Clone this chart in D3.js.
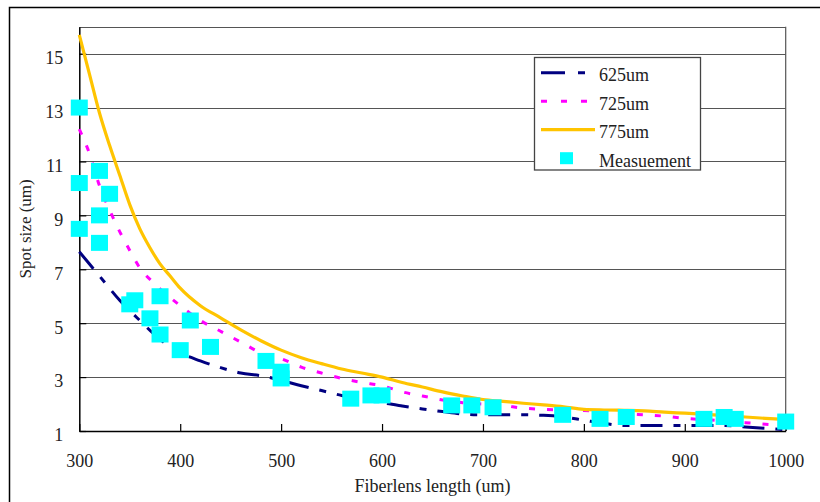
<!DOCTYPE html>
<html>
<head>
<meta charset="utf-8">
<script src="https://cdn.jsdelivr.net/npm/d3@7"></script>
<style>
  html, body { margin: 0; padding: 0; background: #fff; }
  svg { display: block; font-family: "Liberation Serif", "DejaVu Serif", serif; }
</style>
</head>
<body>
<div id="chart"></div>
<script>
// Spot size vs fiberlens length

const xTicks = [300, 400, 500, 600, 700, 800, 900, 1000];
const yTicks = [1, 3, 5, 7, 9, 11, 13, 15];

// simulated curves: [length, spot size]
const curve625 = [
    [300, 7.65], [320, 6.75], [340, 5.85], [360, 5.1], [380, 4.4], [400, 3.9],
    [420, 3.6], [440, 3.35], [460, 3.15], [480, 3.05], [500, 2.88], [520, 2.68],
    [540, 2.5], [560, 2.32], [580, 2.2], [600, 2.05], [620, 1.93], [640, 1.82],
    [660, 1.72], [680, 1.63], [700, 1.6], [720, 1.6], [740, 1.6], [760, 1.58],
    [780, 1.52], [800, 1.4], [820, 1.28], [840, 1.2], [860, 1.2], [880, 1.2],
    [900, 1.2], [920, 1.2], [940, 1.2], [960, 1.15], [980, 1.1], [1000, 1.05]
];
const curve725 = [
    [300, 12.2], [310, 11.3], [320, 10.1], [330, 9.2], [340, 8.4], [350, 7.7],
    [360, 7.05], [375, 6.45], [390, 5.95], [400, 5.65], [420, 5.1], [440, 4.7],
    [460, 4.3], [480, 3.9], [500, 3.68], [520, 3.37], [540, 3.15], [560, 2.95],
    [580, 2.8], [600, 2.68], [620, 2.45], [640, 2.3], [660, 2.15], [680, 2.05],
    [700, 2.0], [720, 1.94], [740, 1.85], [760, 1.8], [780, 1.78], [800, 1.76],
    [820, 1.71], [840, 1.65], [860, 1.6], [880, 1.55], [900, 1.47], [920, 1.42],
    [940, 1.37], [960, 1.31], [980, 1.25], [1000, 1.2]
];
const curve775 = [
    [300, 15.7], [310, 14.25], [320, 12.8], [330, 11.6], [340, 10.5], [350, 9.4],
    [360, 8.5], [370, 7.8], [380, 7.2], [390, 6.75], [400, 6.3], [420, 5.65],
    [440, 5.2], [460, 4.75], [480, 4.35], [500, 4.0], [520, 3.72], [540, 3.5],
    [560, 3.3], [580, 3.15], [600, 3.0], [620, 2.8], [640, 2.63], [660, 2.45],
    [680, 2.3], [700, 2.17], [720, 2.1], [740, 2.03], [760, 1.97], [780, 1.9],
    [800, 1.8], [820, 1.78], [840, 1.77], [860, 1.75], [880, 1.7], [900, 1.66],
    [920, 1.62], [940, 1.57], [960, 1.52], [980, 1.47], [1000, 1.42]
];
// measured points
const measured = [
    [300, 13.0], [300, 10.2], [300, 8.5], [320, 10.65], [320, 9.0], [320, 7.98],
    [330, 9.8], [350, 5.7], [355, 5.85], [370, 5.18], [380, 6.0], [380, 4.58],
    [400, 4.0], [410, 5.1], [430, 4.12], [485, 3.6], [500, 3.2], [500, 2.95],
    [569, 2.2], [589, 2.32], [600, 2.32], [669, 1.95], [689, 1.95], [710, 1.88],
    [779, 1.6], [816, 1.45], [842, 1.52], [919, 1.45], [939, 1.52], [950, 1.45],
    [1000, 1.35]
];

const width = 820, height = 502;
const plot = { left: 79.3, right: 785.7, top: 26.7, bottom: 431 };

const svg = d3.select('#chart').append('svg')
    .attr('width', width)
    .attr('height', height);

// outer chart frame (runs off the right/bottom edge)
svg.append('rect')
    .attr('x', 9.5).attr('y', 7.5)
    .attr('width', 840).attr('height', 520)
    .attr('fill', 'none')
    .attr('stroke', '#000')
    .attr('stroke-width', 1.5);

const x = d3.scaleLinear().domain([300, 1000]).range([plot.left, plot.right]);
const y = d3.scaleLinear().domain([1, 16]).range([plot.bottom, plot.top]);

// gridlines
svg.append('g')
    .selectAll('line')
    .data(yTicks.concat([16]))
    .enter().append('line')
    .attr('x1', plot.left).attr('x2', plot.right)
    .attr('y1', d => Math.round(y(d)) + 0.5)
    .attr('y2', d => Math.round(y(d)) + 0.5)
    .attr('stroke', '#555')
    .attr('stroke-width', 1.2);

// right border of plot area
svg.append('line')
    .attr('x1', plot.right).attr('x2', plot.right)
    .attr('y1', plot.top).attr('y2', plot.bottom)
    .attr('stroke', '#555')
    .attr('stroke-width', 1.2);

// axes
const xAxis = svg.append('g')
    .attr('transform', `translate(0,${plot.bottom})`)
    .call(d3.axisBottom(x).tickValues(xTicks).tickFormat(d3.format('d'))
        .tickSizeInner(-7).tickSizeOuter(0).tickPadding(23));
const yAxis = svg.append('g')
    .attr('transform', `translate(${plot.left},0)`)
    .call(d3.axisLeft(y).tickValues(yTicks).tickFormat(d3.format('d'))
        .tickSizeInner(-7).tickSizeOuter(0).tickPadding(16));

[xAxis, yAxis].forEach(a => {
    a.select('.domain').attr('stroke', '#000').attr('stroke-width', 1.5);
    a.selectAll('.tick line').attr('stroke', '#000').attr('stroke-width', 1.2);
    a.selectAll('.tick text')
        .attr('fill', '#222')
        .style('font-family', '"Liberation Serif", serif')
        .style('font-size', '18px');
});
yAxis.selectAll('.tick text').attr('dy', '0.55em');
xAxis.selectAll('.tick text').attr('dy', '0.71em');

// axis titles
svg.append('text')
    .attr('x', (plot.left + plot.right) / 2)
    .attr('y', 492)
    .attr('text-anchor', 'middle')
    .attr('fill', '#222')
    .style('font-size', '18px')
    .text('Fiberlens length (um)');

svg.append('text')
    .attr('transform', `translate(31,${(plot.top + plot.bottom) / 2}) rotate(-90)`)
    .attr('text-anchor', 'middle')
    .attr('fill', '#222')
    .style('font-size', '17px')
    .text('Spot size (um)');

// curves
const line = d3.line()
    .x(d => x(d[0]))
    .y(d => y(d[1]))
    .curve(d3.curveMonotoneX);

const series = [
    { name: '625um', data: curve625, color: '#000080', dash: '22,11,7,11', width: 3 },
    { name: '725um', data: curve725, color: '#FF00FF', dash: '6,12', width: 3 },
    { name: '775um', data: curve775, color: '#FFC400', dash: null, width: 3.2 }
];

svg.append('g')
    .selectAll('path')
    .data(series)
    .enter().append('path')
    .attr('d', d => line(d.data))
    .attr('fill', 'none')
    .attr('stroke', d => d.color)
    .attr('stroke-width', d => d.width)
    .attr('stroke-dasharray', d => d.dash);

// measurement squares
const sqW = 17, sqH = 16;
svg.append('g')
    .selectAll('rect')
    .data(measured)
    .enter().append('rect')
    .attr('x', d => x(d[0]) - sqW / 2)
    .attr('y', d => y(d[1]) - sqH / 2)
    .attr('width', sqW)
    .attr('height', sqH)
    .attr('fill', '#00FFFF');

// legend
const legend = svg.append('g');
legend.append('rect')
    .attr('x', 534.5).attr('y', 57.5)
    .attr('width', 166).attr('height', 112.5)
    .attr('fill', '#fff')
    .attr('stroke', '#444')
    .attr('stroke-width', 1.3);

const legendItems = series.map(s => ({ name: s.name, s: s }))
    .concat([{ name: 'Measuement', s: null }]);

legendItems.forEach((d, i) => {
    const cy = 72.7 + i * 28.5;
    if (d.s) {
        legend.append('line')
            .attr('x1', 541).attr('x2', 595)
            .attr('y1', cy).attr('y2', cy)
            .attr('stroke', d.s.color)
            .attr('stroke-width', d.s.width)
            .attr('stroke-dasharray', d.s.name === '625um' ? '24,13,7,13'
                : d.s.name === '725um' ? '6,14' : null);
    } else {
        legend.append('rect')
            .attr('x', 560).attr('y', cy - 6)
            .attr('width', 13).attr('height', 12)
            .attr('fill', '#00FFFF');
    }
    legend.append('text')
        .attr('x', 599)
        .attr('y', cy + 8.5)
        .attr('fill', '#222')
        .style('font-size', '18px')
        .text(d.name);
});
</script>
</body>
</html>
